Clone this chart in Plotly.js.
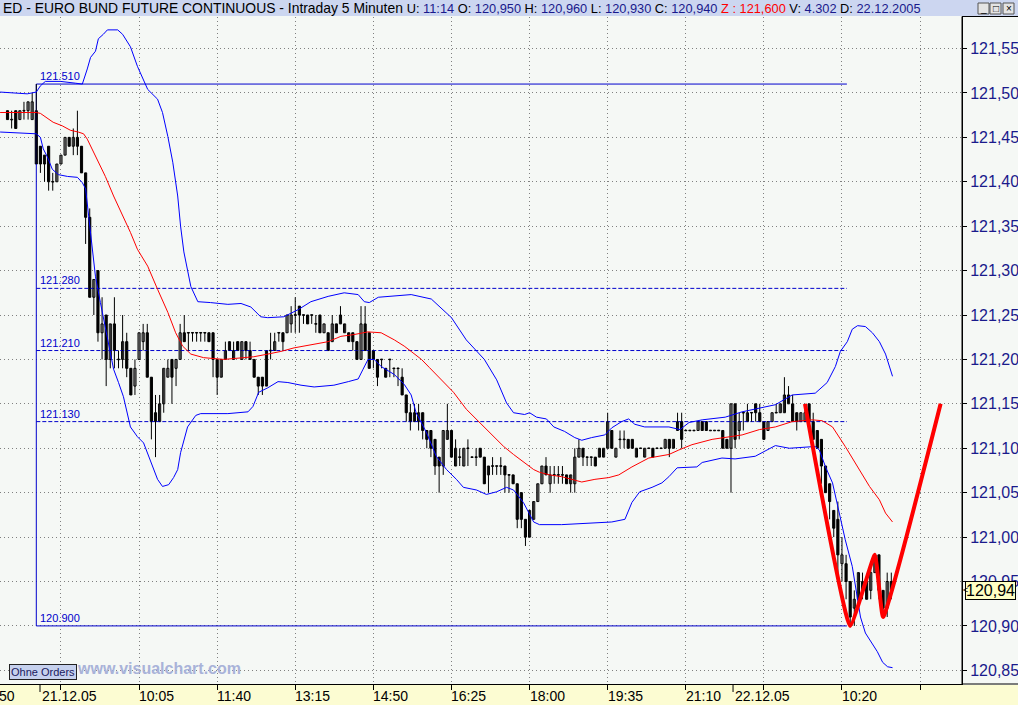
<!DOCTYPE html>
<html><head><meta charset="utf-8">
<script src="https://cdn.plot.ly/plotly-3.0.1.min.js"></script>
<style>html,body{margin:0;padding:0;background:#f5f8f5;overflow:hidden}#chart{width:1018px;height:705px}</style>
</head><body><div id="chart"></div>
<script>
// ---------- DATA ----------
const firstBar = -7; // bar index of first visible candle (bar 0 = 21.12.05 08:00)
const opens = [
121.48,121.47,121.48,121.47,121.48,121.48,121.47,121.48,121.44,121.42,
121.44,121.40,121.40,121.42,121.43,121.45,121.44,121.45,121.44,121.41,
121.36,121.27,121.30,121.23,121.25,121.20,121.24,121.20,121.20,121.22,
121.19,121.17,121.20,121.22,121.23,121.18,121.14,121.13,121.15,121.18,
121.20,121.19,121.20,121.23,121.23,121.23,121.23,121.23,121.23,121.23,
121.23,121.20,121.18,121.20,121.21,121.20,121.22,121.20,121.22,121.21,
121.20,121.18,121.18,121.17,121.21,121.21,121.23,121.23,121.23,121.24,
121.25,121.26,121.25,121.25,121.25,121.24,121.25,121.23,121.23,121.22,
121.24,121.24,121.23,121.23,121.23,121.22,121.20,121.24,121.23,121.21,
121.20,121.20,121.19,121.20,121.19,121.19,121.18,121.16,121.14,121.13,
121.13,121.14,121.12,121.12,121.11,121.09,121.08,121.11,121.12,121.08,
121.09,121.08,121.10,121.09,121.09,121.10,121.09,121.07,121.08,121.08,
121.08,121.08,121.07,121.07,121.06,121.05,121.02,121.00,121.02,121.04,
121.06,121.08,121.06,121.07,121.07,121.07,121.07,121.06,121.06,121.09,
121.10,121.09,121.09,121.09,121.09,121.09,121.10,121.12,121.09,121.11,
121.11,121.11,121.11,121.09,121.10,121.09,121.10,121.10,121.10,121.10,
121.10,121.11,121.10,121.12,121.13,121.12,121.12,121.12,121.12,121.13,
121.13,121.12,121.12,121.12,121.12,121.11,121.10,121.15,121.12,121.14,
121.13,121.14,121.15,121.14,121.13,121.12,121.13,121.14,121.14,121.14,
121.15,121.15,121.14,121.13,121.13,121.15,121.13,121.12,121.11,121.08,
121.06,121.03,121.02,120.97,120.97,120.95,120.92,120.93,120.94,120.95,
120.94,120.96,120.98,120.94,120.92,120.95];
const highs = [
121.48,121.48,121.48,121.48,121.49,121.49,121.50,121.51,121.44,121.43,
121.44,121.41,121.42,121.43,121.45,121.45,121.46,121.48,121.44,121.41,
121.37,121.29,121.30,121.27,121.25,121.24,121.27,121.21,121.25,121.23,
121.19,121.20,121.23,121.24,121.24,121.18,121.16,121.16,121.19,121.20,
121.20,121.20,121.24,121.25,121.23,121.23,121.23,121.23,121.23,121.23,
121.23,121.20,121.20,121.22,121.22,121.22,121.22,121.22,121.22,121.22,
121.20,121.18,121.18,121.21,121.23,121.23,121.23,121.23,121.25,121.26,
121.27,121.26,121.25,121.25,121.25,121.25,121.25,121.24,121.23,121.25,
121.24,121.26,121.24,121.23,121.23,121.22,121.26,121.26,121.23,121.21,
121.20,121.20,121.19,121.20,121.19,121.19,121.19,121.16,121.15,121.15,
121.15,121.14,121.12,121.12,121.11,121.09,121.12,121.15,121.12,121.11,
121.10,121.10,121.11,121.09,121.10,121.10,121.09,121.08,121.09,121.08,
121.09,121.08,121.07,121.07,121.06,121.05,121.02,121.03,121.04,121.06,
121.08,121.09,121.08,121.08,121.08,121.08,121.07,121.07,121.10,121.11,
121.10,121.09,121.09,121.09,121.10,121.10,121.14,121.12,121.10,121.12,
121.12,121.11,121.11,121.10,121.10,121.10,121.10,121.10,121.10,121.10,
121.11,121.11,121.11,121.14,121.14,121.12,121.12,121.12,121.13,121.13,
121.13,121.12,121.12,121.12,121.12,121.11,121.15,121.15,121.14,121.14,
121.15,121.14,121.15,121.15,121.13,121.13,121.14,121.15,121.15,121.18,
121.17,121.16,121.14,121.14,121.15,121.15,121.14,121.12,121.11,121.08,
121.06,121.03,121.04,121.00,120.98,120.95,120.94,120.96,120.96,120.95,
120.97,120.98,120.98,120.94,120.96,120.96];
const lows = [
121.47,121.46,121.46,121.47,121.47,121.47,121.47,121.42,121.41,121.40,
121.39,121.39,121.40,121.42,121.43,121.44,121.43,121.43,121.41,121.33,
121.27,121.25,121.22,121.20,121.17,121.19,121.19,121.19,121.19,121.18,
121.16,121.16,121.20,121.21,121.18,121.11,121.09,121.13,121.14,121.18,
121.15,121.17,121.20,121.22,121.21,121.22,121.22,121.22,121.22,121.22,
121.18,121.16,121.18,121.20,121.21,121.20,121.21,121.20,121.20,121.20,
121.18,121.16,121.16,121.17,121.20,121.21,121.22,121.21,121.23,121.23,
121.23,121.23,121.24,121.24,121.24,121.23,121.23,121.23,121.21,121.22,
121.23,121.24,121.23,121.22,121.21,121.20,121.20,121.21,121.19,121.19,
121.17,121.19,121.18,121.18,121.18,121.17,121.16,121.13,121.12,121.13,
121.12,121.11,121.10,121.09,121.07,121.05,121.07,121.11,121.09,121.08,
121.08,121.08,121.08,121.09,121.08,121.09,121.06,121.05,121.07,121.07,
121.07,121.05,121.05,121.06,121.01,121.01,120.99,121.00,121.02,121.04,
121.06,121.07,121.05,121.06,121.06,121.06,121.06,121.05,121.05,121.09,
121.08,121.08,121.08,121.08,121.09,121.09,121.10,121.10,121.09,121.10,
121.10,121.10,121.10,121.09,121.10,121.09,121.10,121.09,121.10,121.10,
121.10,121.09,121.10,121.12,121.10,121.12,121.12,121.12,121.12,121.12,
121.12,121.12,121.12,121.12,121.10,121.10,121.05,121.10,121.11,121.12,
121.13,121.13,121.13,121.13,121.11,121.12,121.13,121.14,121.14,121.14,
121.15,121.13,121.12,121.13,121.13,121.13,121.11,121.10,121.06,121.05,
121.02,121.00,120.95,120.95,120.93,120.90,120.90,120.92,120.93,120.93,
120.93,120.96,120.93,120.91,120.91,120.93];
const closes = [
121.47,121.47,121.46,121.48,121.48,121.49,121.49,121.42,121.42,121.43,
121.40,121.40,121.42,121.43,121.45,121.44,121.45,121.44,121.41,121.36,
121.27,121.29,121.23,121.24,121.20,121.24,121.21,121.20,121.22,121.19,
121.16,121.19,121.23,121.23,121.18,121.13,121.13,121.15,121.19,121.19,
121.18,121.20,121.23,121.22,121.23,121.23,121.23,121.23,121.23,121.22,
121.20,121.18,121.20,121.21,121.22,121.21,121.21,121.22,121.21,121.20,
121.18,121.17,121.17,121.21,121.21,121.22,121.23,121.22,121.25,121.25,
121.25,121.25,121.25,121.24,121.25,121.24,121.23,121.24,121.21,121.24,
121.23,121.25,121.24,121.22,121.22,121.20,121.24,121.21,121.19,121.20,
121.18,121.20,121.18,121.20,121.19,121.19,121.16,121.14,121.13,121.14,
121.14,121.12,121.11,121.10,121.08,121.08,121.12,121.12,121.09,121.10,
121.09,121.10,121.10,121.09,121.09,121.09,121.06,121.08,121.08,121.08,
121.08,121.07,121.07,121.06,121.02,121.02,121.00,121.03,121.04,121.06,
121.08,121.07,121.07,121.07,121.07,121.07,121.06,121.07,121.09,121.10,
121.09,121.09,121.09,121.08,121.10,121.10,121.13,121.10,121.10,121.11,
121.11,121.10,121.10,121.10,121.10,121.10,121.10,121.09,121.10,121.10,
121.11,121.10,121.11,121.13,121.11,121.12,121.12,121.12,121.13,121.12,
121.12,121.12,121.12,121.12,121.10,121.10,121.15,121.11,121.13,121.14,
121.14,121.14,121.14,121.13,121.11,121.13,121.14,121.14,121.15,121.16,
121.16,121.13,121.13,121.14,121.14,121.13,121.11,121.10,121.08,121.05,
121.04,121.01,120.98,120.98,120.95,120.91,120.93,120.96,120.95,120.93,
120.96,120.98,120.94,120.92,120.95,120.94];

// Bollinger band (upper / lower) and moving average, sampled along the drawn lines
const upperBars = [-8.8,-2.2,0,1.0,2.2,5.9,9.5,11.2,12.4,13.2,14.4,15.1,16.3,17.3,19.8,21.0,22.9,24.6,27.1,29.5,30.7,32.0,33.2,34.4,35.1,35.9,37.6,39.3,42.4,46.6,49.8,52.2,54.6,56.3,60.2,63.7,66.8,71.0,74.9,78.3,79.8,81.0,83.2,91.2,96.1,101.0,104.6,107.1,109.0,112.0,114.4,116.1,118.8,120.0,121.7,124.1,125.9,128.5,131.0,132.7,135.1,138.3,140.0,142.4,144.1,145.6,148.0,153.9,156.6,158.8,162.0,167.6,171.7,179.8,183.9,189.5,192.4,194.4,195.6,197.3,198.5,199.8,201.7,203.4,205.1,206.6,208.3];
const upperBand = [121.501,121.499,121.501,121.508,121.513,121.513,121.511,121.510,121.527,121.540,121.547,121.561,121.566,121.571,121.571,121.566,121.552,121.530,121.504,121.493,121.478,121.451,121.422,121.384,121.350,121.321,121.282,121.265,121.264,121.262,121.263,121.259,121.248,121.247,121.248,121.256,121.265,121.271,121.275,121.273,121.265,121.264,121.270,121.273,121.268,121.247,121.222,121.209,121.200,121.177,121.151,121.140,121.138,121.140,121.135,121.133,121.124,121.119,121.112,121.109,121.112,121.115,121.123,121.130,121.133,121.127,121.124,121.124,121.121,121.129,121.132,121.135,121.141,121.149,121.160,121.162,121.174,121.192,121.209,121.220,121.234,121.238,121.237,121.230,121.220,121.206,121.181];
const lowerBars = [-8.8,-2.2,0,1.0,1.7,2.7,3.9,5.4,7.6,10.0,11.2,12.0,13.2,14.4,15.6,17.3,18.8,20.0,21.2,22.9,24.6,26.1,27.3,28.3,29.5,30.7,32.2,33.4,34.4,35.1,36.8,38.8,40.0,46.6,51.5,52.7,54.1,56.3,58.8,61.2,64.4,67.6,72.4,75.9,78.3,79.5,80.7,82.2,83.9,87.1,89.5,91.2,92.4,94.9,97.3,99.8,102.2,103.9,107.1,109.5,112.0,114.4,116.1,118.5,121.0,122.4,127.8,140.0,143.2,144.9,146.8,149.8,152.2,153.9,155.9,160.7,162.0,166.8,170.0,174.9,179.8,183.2,189.5,190.5,192.0,193.7,195.4,196.8,198.5,200.5,201.7,203.4,204.6,205.9,207.1,208.3];
const lowerBand = [121.456,121.454,121.454,121.450,121.437,121.428,121.414,121.408,121.406,121.405,121.399,121.392,121.343,121.293,121.264,121.226,121.189,121.174,121.158,121.124,121.113,121.106,121.091,121.079,121.065,121.057,121.059,121.067,121.076,121.095,121.124,121.137,121.139,121.139,121.141,121.147,121.163,121.168,121.175,121.174,121.171,121.169,121.171,121.175,121.178,121.189,121.200,121.200,121.192,121.183,121.172,121.160,121.140,121.118,121.091,121.076,121.065,121.056,121.053,121.048,121.051,121.056,121.053,121.039,121.017,121.014,121.014,121.017,121.020,121.039,121.051,121.056,121.061,121.068,121.078,121.079,121.084,121.089,121.088,121.091,121.103,121.100,121.102,121.098,121.079,121.061,121.027,120.997,120.967,120.910,120.892,120.879,120.871,120.859,120.854,120.853];
const maBars = [-8.8,0,1.0,2.7,4.1,6.3,8.3,10.2,11.5,12.4,14.4,16.8,18.8,21.2,22.9,24.6,27.1,29.5,32.0,33.9,35.6,37.6,40.7,45.6,49.8,52.9,56.3,59.5,62.7,67.6,71.0,74.1,77.3,80.7,83.9,87.1,89.5,91.2,93.7,95.6,98.0,101.5,104.6,107.8,111.2,113.7,116.1,118.5,121.0,122.4,124.9,127.8,130.2,132.7,135.9,139.3,141.7,144.9,149.0,153.9,156.3,159.5,164.4,167.6,171.7,175.9,179.8,183.9,188.8,191.2,193.7,196.8,200.2,202.7,205.1,206.6,208.3];
const maValues = [121.478,121.478,121.477,121.471,121.467,121.463,121.458,121.456,121.454,121.448,121.429,121.406,121.384,121.361,121.343,121.324,121.305,121.279,121.253,121.230,121.215,121.206,121.202,121.200,121.202,121.203,121.206,121.209,121.213,121.217,121.220,121.226,121.228,121.231,121.230,121.222,121.215,121.209,121.200,121.191,121.180,121.163,121.144,121.129,121.113,121.102,121.093,121.085,121.076,121.073,121.070,121.068,121.065,121.062,121.065,121.067,121.070,121.079,121.089,121.093,121.098,121.104,121.110,121.112,121.115,121.121,121.124,121.130,121.132,121.131,121.124,121.102,121.076,121.057,121.042,121.027,121.017];

// hand-drawn red zigzag
const zigzagBars = [187, 198, 204, 206, 220];
const zigzagPrices = [121.15, 120.90, 120.98, 120.91, 121.15];

// horizontal level lines
const levelPrices = [121.51, 121.28, 121.21, 121.13, 120.90];
const levelLabels = ['121.510', '121.280', '121.210', '121.130', '120.900'];
const levelDashed = [false, true, true, true, false];
const levelStartBar = 0;
const levelEndBar = 197.2;

// time axis
const gridBars = [-13, 6, 25, 44, 63, 82, 101, 120, 139, 158, 177, 196, 215];
const timeLabelBars = [25, 44, 63, 82, 101, 120, 139, 158, 196];
const timeLabels = ['10:05', '11:40', '13:15', '14:50', '16:25', '18:00', '19:35', '21:10', '10:20'];
const dayBreakBars = [0.9, 169.5];
const dayLabels = ['21.12.05', '22.12.05'];

// header info
const headerName = 'ED - EURO BUND FUTURE CONTINUOUS - Intraday 5 Minuten';
const headerTime = '11:14';
const headerZ = '121,600';
const headerVolume = '4.302';
const headerDate = '22.12.2005';

// ---------- BUILD ----------
const n = opens.length;
const barX = [];
for (let k = 0; k < n; k++) barX.push(firstBar + k);
const fmt3 = v => v.toFixed(3).replace('.', ',');
const fmt2 = v => v.toFixed(2).replace('.', ',');
const last = n - 1;

const NAVY = '#1a1a8c';
const BLUE = '#0000cc';
const seg = (t, c) => '<span style="font-size:12.8px;color:' + c + '">' + t + '</span>';
const titleHtml = headerName + '&nbsp;' +
  seg('U: ', '#000') + seg(headerTime, NAVY) +
  seg(' O: ', '#000') + seg(fmt3(opens[last]), NAVY) +
  seg(' H: ', '#000') + seg(fmt3(highs[last]), NAVY) +
  seg(' L: ', '#000') + seg(fmt3(lows[last]), NAVY) +
  seg(' C: ', '#000') + seg(fmt3(closes[last]), NAVY) +
  seg(' Z : ' + headerZ, '#ff0000') +
  seg(' V: ', '#000') + seg(headerVolume, NAVY) +
  seg(' D: ', '#000') + seg(headerDate, NAVY);

// candle pieces: wicks as one broken line, bodies as bars (hollow = up, filled = down)
const wickX = [], wickY = [];
const bodyBase = [], bodySize = [], bodyFill = [];
const minBody = 0.0007;
for (let k = 0; k < n; k++) {
  wickX.push(barX[k], barX[k], null);
  wickY.push(lows[k], highs[k], null);
  const lo = Math.min(opens[k], closes[k]);
  const hi = Math.max(opens[k], closes[k]);
  const size = Math.max(hi - lo, minBody);
  bodyBase.push(hi - lo < minBody ? lo - minBody / 2 : lo);
  bodySize.push(size);
  bodyFill.push(closes[k] > opens[k] ? '#ffffff' : '#000000');
}

const traces = [];
levelPrices.forEach((p, k) => {
  traces.push({type: 'scatter', mode: 'lines', x: [levelStartBar, levelEndBar], y: [p, p],
    line: {color: BLUE, width: 1, dash: levelDashed[k] ? '4px,2px' : 'solid'}, hoverinfo: 'skip'});
});
traces.push({type: 'scatter', mode: 'lines', x: [levelStartBar, levelStartBar],
  y: [levelPrices[0], levelPrices[levelPrices.length - 1]], line: {color: BLUE, width: 1}, hoverinfo: 'skip'});
traces.push({type: 'scatter', mode: 'lines', x: wickX, y: wickY, line: {color: '#000', width: 1}, connectgaps: false, hoverinfo: 'skip'});
traces.push({type: 'bar', x: barX, base: bodyBase, y: bodySize, width: 0.52,
  marker: {color: bodyFill, line: {color: '#000', width: 1}}, hoverinfo: 'skip'});
traces.push({type: 'scatter', mode: 'lines', x: upperBars, y: upperBand, line: {color: '#0000ff', width: 1}, hoverinfo: 'skip'});
traces.push({type: 'scatter', mode: 'lines', x: lowerBars, y: lowerBand, line: {color: '#0000ff', width: 1}, hoverinfo: 'skip'});
traces.push({type: 'scatter', mode: 'lines', x: maBars, y: maValues, line: {color: '#ff0000', width: 1}, hoverinfo: 'skip'});
traces.push({type: 'scatter', mode: 'lines', x: zigzagBars, y: zigzagPrices,
  line: {color: '#ff0000', width: 4, shape: 'spline', smoothing: 0.35}, hoverinfo: 'skip'});

const PW = 962, PH = 667; // plot area size in px
const px = x => x / PW;            // pixel x -> paper
const py = y => (684 - y) / PH;    // pixel y -> paper

const shapes = [
  {type: 'rect', xref: 'paper', yref: 'paper', x0: 0, x1: px(1018), y0: py(16), y1: py(-2), fillcolor: '#ccd6f0', line: {width: 0}, layer: 'below'},
  {type: 'rect', xref: 'paper', yref: 'paper', x0: 0, x1: px(1018), y0: py(685), y1: py(707), fillcolor: '#fcfcd2', line: {width: 0}, layer: 'below'},
  {type: 'line', xref: 'paper', yref: 'paper', x0: 1, x1: px(1018), y0: py(16.5), y1: py(16.5), line: {color: '#000', width: 1}},
  {type: 'line', xref: 'paper', yref: 'paper', x0: 1, x1: px(1018), y0: 0, y1: 0, line: {color: '#000', width: 1}},
  {type: 'line', xref: 'paper', yref: 'paper', x0: 1, x1: 1, y0: 0, y1: py(16.5), line: {color: '#000', width: 1}}
];
dayBreakBars.forEach(b => shapes.push({type: 'line', xref: 'x', yref: 'paper', x0: b, x1: b, y0: py(685), y1: py(692), line: {color: '#000', width: 1}}));
// window buttons
[[978, 989], [990, 1001], [1003, 1014]].forEach(r => shapes.push({type: 'rect', xref: 'paper', yref: 'paper',
  x0: px(r[0]), x1: px(r[1]), y0: py(14), y1: py(3), fillcolor: '#e4e4e4', line: {color: '#555', width: 1}}));

const annotations = [];
levelPrices.forEach((p, k) => annotations.push({xref: 'x', yref: 'y', x: levelStartBar, y: p, xanchor: 'left', yanchor: 'bottom',
  xshift: 2, yshift: 0, text: levelLabels[k], showarrow: false, font: {size: 11, color: BLUE}}));
timeLabelBars.forEach((b, k) => annotations.push({xref: 'x', yref: 'paper', x: b, y: py(686), xanchor: 'left', yanchor: 'top',
  xshift: -2, text: timeLabels[k], showarrow: false, font: {size: 14, color: '#000'}}));
dayBreakBars.forEach((b, k) => annotations.push({xref: 'x', yref: 'paper', x: b, y: py(686), xanchor: 'left', yanchor: 'top',
  xshift: 0, text: dayLabels[k], showarrow: false, font: {size: 14, color: '#000'}}));
annotations.push({xref: 'paper', yref: 'paper', x: px(-3), y: py(686), xanchor: 'left', yanchor: 'top', text: '50', showarrow: false, font: {size: 14, color: '#000'}});
annotations.push({xref: 'paper', yref: 'y', x: px(965), y: closes[last], xanchor: 'left', yanchor: 'middle',
  text: fmt2(closes[last]), showarrow: false, bgcolor: '#ffffc4', bordercolor: '#000', borderwidth: 1, borderpad: 0,
  font: {size: 16, color: '#000'}});
annotations.push({xref: 'paper', yref: 'y', x: px(961), y: closes[last], xanchor: 'left', yanchor: 'middle',
  text: '<', showarrow: false, font: {size: 9, color: '#000'}});
annotations.push({xref: 'paper', yref: 'paper', x: px(9), y: py(671.5), xanchor: 'left', yanchor: 'middle', text: 'Ohne Orders',
  showarrow: false, bgcolor: '#c6d1ee', bordercolor: '#222', borderwidth: 1, borderpad: 1, font: {size: 11, color: '#1a1a60'}});
annotations.push({xref: 'paper', yref: 'paper', x: px(75), y: py(668), xanchor: 'left', yanchor: 'middle', text: '<b>www.visualchart.com</b>',
  showarrow: false, font: {size: 16, color: '#a9b3d9'}});
[['_', 983.5], ['□', 995.5], ['×', 1008.5]].forEach(g => annotations.push({xref: 'paper', yref: 'paper', x: px(g[1]), y: py(8.5),
  xanchor: 'center', yanchor: 'middle', text: g[0], showarrow: false, font: {size: 10, color: '#000'}}));

const layout = {
  width: 1018, height: 705, autosize: false,
  margin: {l: 0, r: 56, t: 17, b: 21, pad: 0},
  paper_bgcolor: '#f5f8f5', plot_bgcolor: '#f5f8f5',
  separators: ',.', showlegend: false, barmode: 'overlay',
  font: {family: 'Liberation Sans, Arial, sans-serif', color: '#000'},
  title: {text: titleHtml, x: 0.003, xanchor: 'left', xref: 'container', y: 1 - 8.5 / 705, yanchor: 'middle', yref: 'container',
    font: {size: 13.9, color: '#000'}},
  xaxis: {type: 'linear', range: [-8.83, 225.2], showgrid: true, gridcolor: '#808080', griddash: '1px,3px', gridwidth: 1,
    tickmode: 'array', tickvals: gridBars, ticks: 'outside', ticklen: 5, tickcolor: '#000', showticklabels: false,
    showline: true, linecolor: '#000', linewidth: 1, zeroline: false, fixedrange: true},
  yaxis: {range: [120.8346, 121.5855], side: 'right', tick0: 120.85, dtick: 0.05, tickformat: '.2f',
    showgrid: true, gridcolor: '#808080', griddash: '1px,3px', gridwidth: 1, ticks: 'outside', ticklen: 4, tickcolor: '#000',
    showline: true, linecolor: '#000', linewidth: 1, zeroline: false, tickfont: {size: 16, color: NAVY}, fixedrange: true},
  shapes: shapes, annotations: annotations
};
Plotly.newPlot('chart', traces, layout, {displayModeBar: false, staticPlot: true});
</script>
</body></html>
